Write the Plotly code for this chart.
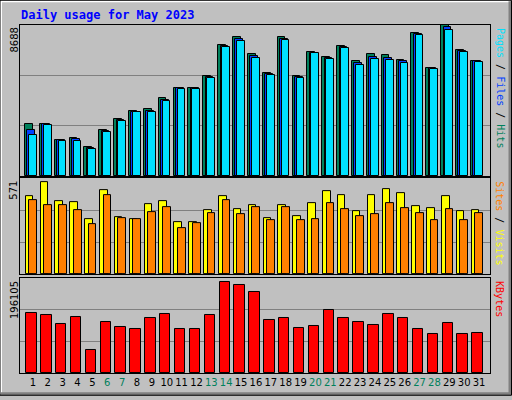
import plotly.graph_objects as go

days = list(range(1, 32))
weekend = [6, 7, 13, 14, 20, 21, 27, 28]
hits = [3003, 3003, 2096, 2210, 1700, 2663, 3286, 3740, 3853, 4476, 5099, 5099, 5779, 7536, 7989, 7026,
        5949, 7989, 5779, 7139, 6856, 7479, 6629, 7026, 6969, 6686, 8216, 6233, 8688, 7252, 6629]
files = [2663, 2980, 2070, 2120, 1640, 2600, 3230, 3720, 3760, 4380, 5070, 5070, 5720, 7480, 7880, 6900,
         5890, 7900, 5720, 7110, 6800, 7420, 6500, 6880, 6820, 6600, 8160, 6200, 8600, 7200, 6600]
pages = [2380, 2946, 2040, 2040, 1587, 2550, 3173, 3683, 3683, 4306, 5043, 5043, 5666, 7423, 7763, 6799,
         5836, 7819, 5666, 7083, 6743, 7366, 6403, 6743, 6686, 6516, 8103, 6176, 8386, 7139, 6573]
visits = [466, 549, 436, 430, 329, 502, 341, 329, 418, 436, 311, 311, 383, 466, 389, 412,
          335, 412, 347, 424, 496, 472, 377, 472, 508, 484, 406, 395, 466, 377, 383]
sites = [442, 412, 412, 383, 299, 472, 335, 329, 371, 400, 276, 305, 365, 442, 359, 400,
         323, 400, 323, 329, 424, 389, 347, 359, 424, 395, 365, 323, 389, 323, 365]
kbytes = [124546, 120418, 101839, 116289, 48167, 105967, 95646, 91517, 114225, 122482, 91517, 91517,
          120418, 188539, 182347, 167896, 110096, 114225, 93582, 97710, 130739, 114225, 105967, 99774,
          122482, 114225, 91517, 81196, 103903, 81196, 83260]
max_hits, max_visits, max_kb = 8688, 571, 196105

line = dict(color="black", width=1)
def bar(y, color, off, w, xa, ya):
    return go.Bar(x=days, y=y, offset=off, width=w, marker=dict(color=color, line=line),
                  xaxis=xa, yaxis=ya, showlegend=False, hoverinfo="skip")

fig = go.Figure()
fig.add_trace(bar(hits, "#00805C", -0.54, 0.52, "x", "y"))
fig.add_trace(bar(files, "#0040FF", -0.38, 0.52, "x", "y"))
fig.add_trace(bar(pages, "#00E0FF", -0.27, 0.52, "x", "y"))
fig.add_trace(bar(visits, "#FFFF00", -0.49, 0.51, "x2", "y2"))
fig.add_trace(bar(sites, "#FF8000", -0.25, 0.52, "x2", "y2"))
fig.add_trace(bar(kbytes, "#FF0000", -0.45, 0.7, "x3", "y3"))

xr = [0.13, 31.74]
ticktext = [f'<span style="color:#00805C">{d}</span>' if d in weekend else str(d) for d in days]
common_x = dict(range=xr, showgrid=False, zeroline=False, showline=True, mirror=True,
                linecolor="black", linewidth=1, fixedrange=True)
fig.update_layout(
    xaxis=dict(common_x, anchor="y", showticklabels=False, ticks=""),
    xaxis2=dict(common_x, anchor="y2", showticklabels=False, ticks=""),
    xaxis3=dict(common_x, anchor="y3", tickvals=days, ticktext=ticktext, ticks="",
                tickfont=dict(family="DejaVu Sans", size=10, color="black"), tickangle=0),
)
def yax(mx, dom):
    return dict(range=[0, mx], domain=dom, tickvals=[mx / 3, 2 * mx / 3], showticklabels=False,
                gridcolor="#808080", gridwidth=1, zeroline=False, showline=True, mirror=True,
                linecolor="black", ticks="")
fig.update_layout(yaxis=yax(max_hits, [0.565, 1]), yaxis2=yax(max_visits, [0.284, 0.560]),
                  yaxis3=yax(max_kb, [0, 0.273]))

def px(X): return (X - 20) / 470
def py(Y): return (377 - Y) / 352

ann = []
ann.append(dict(text="<b>Daily usage for May 2023</b>", x=px(19), y=py(15), xref="paper", yref="paper",
                xanchor="left", yanchor="middle", showarrow=False,
                font=dict(family="DejaVu Sans Mono", size=12, color="#0000FF")))
for txt, Y in [("8688", 25), ("571", 180), ("196105", 281)]:
    ann.append(dict(text=txt, x=px(14), y=py(Y + 1), xref="paper", yref="paper", textangle=-90,
                    xanchor="center", yanchor="top", showarrow=False,
                    font=dict(family="DejaVu Sans", size=10, color="black")))
side = [('<span style="color:#00E0FF">Pages</span> / <span style="color:#0040FF">Files</span> / '
         '<span style="color:#00805C">Hits</span>', 25),
        ('<span style="color:#FF8000">Sites</span> / <span style="color:#FFFF00">Visits</span>', 180),
        ('<span style="color:#FF0000">KBytes</span>', 281)]
for txt, Y in side:
    ann.append(dict(text=txt, x=px(500), y=py(Y + 1), xref="paper", yref="paper", textangle=90,
                    xanchor="center", yanchor="top", showarrow=False,
                    font=dict(family="DejaVu Sans Mono", size=10, color="black")))

shapes = [
    dict(type="line", xref="paper", yref="paper", x0=px(1), y0=py(1), x1=px(510), y1=py(1),
         line=dict(color="white", width=2)),
    dict(type="line", xref="paper", yref="paper", x0=px(1), y0=py(1), x1=px(1), y1=py(398),
         line=dict(color="white", width=2)),
    dict(type="line", xref="paper", yref="paper", x0=px(1), y0=py(398), x1=px(511), y1=py(398),
         line=dict(color="#808080", width=3)),
    dict(type="line", xref="paper", yref="paper", x0=px(510), y0=py(1), x1=px(510), y1=py(398),
         line=dict(color="#808080", width=3)),
    dict(type="rect", xref="paper", yref="paper", x0=px(0), y0=py(0), x1=px(511.5), y1=py(399.5),
         line=dict(color="black", width=1)),
]
fig.update_layout(width=512, height=400, margin=dict(l=20, r=22, t=25, b=23),
                  paper_bgcolor="#C0C0C0", plot_bgcolor="#C0C0C0", barmode="overlay",
                  annotations=ann, shapes=shapes, bargap=0)
fig.write_html("out.html", config={"displayModeBar": False},
               post_script="document.body.style.margin='0';document.body.style.overflow='hidden';")
